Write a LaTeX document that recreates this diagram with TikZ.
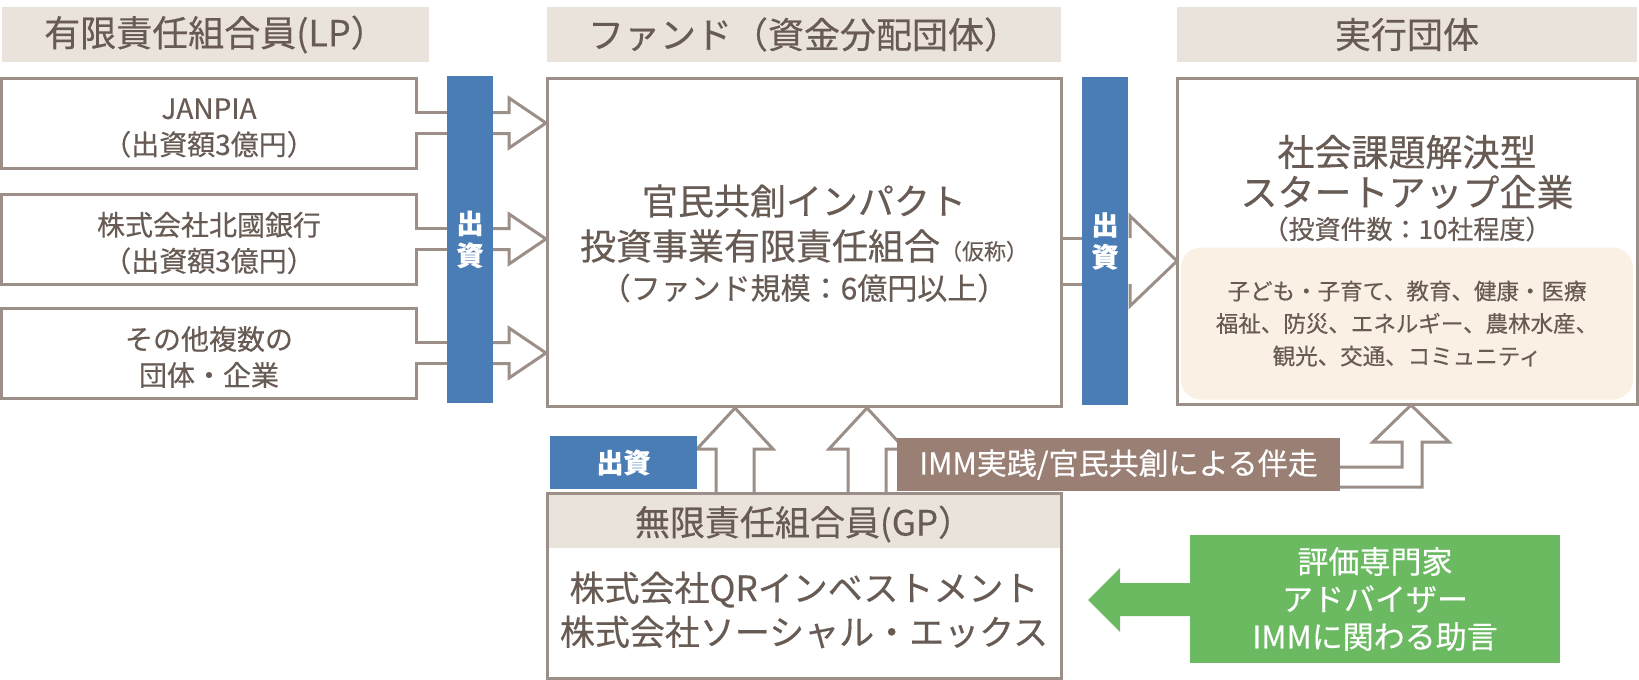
\documentclass[tikz,border=0pt]{standalone}
\usepackage{fontspec}
\setmainfont{Noto Sans CJK JP}[FakeBold=0.4]
\definecolor{hdrfill}{HTML}{EAE3DC}
\definecolor{txt}{HTML}{675B54}
\definecolor{lnc}{HTML}{9B8F87}
\definecolor{bluec}{HTML}{4A7DB5}
\definecolor{brownc}{HTML}{9A8074}
\definecolor{greenc}{HTML}{6BBA62}
\definecolor{beigec}{HTML}{FAF0E4}
\tikzset{
  hdr/.style={fill=hdrfill, inner sep=0pt, text=txt, font=\fontsize{36}{40}\selectfont},
  ln/.style={draw=lnc, line width=3pt, line join=miter},
  frame/.style={draw=lnc, line width=3pt, inner sep=0pt},
  boxtxt/.style={align=center, text=txt, inner sep=0pt, font=\fontsize{28}{36}\selectfont},
  tx/.style={align=center, text=txt, inner sep=0pt},
  barbox/.style={fill=bluec, inner sep=0pt, text=white, align=center, font=\bfseries\fontsize{27}{32}\selectfont},
  lbl/.style={inner sep=0pt, text=white, align=center},
}
\begin{document}
\begin{tikzpicture}[x=1pt,y=-1pt]
\useasboundingbox[fill=white] (0,0) rectangle (1639,680);

% headers
\node[hdr, minimum width=427pt, minimum height=55pt] (hLP) at (215.5,34.5) {有限責任組合員(LP）};
\node[hdr, minimum width=514pt, minimum height=55pt] (hFund) at (804,34.5) {ファンド（資金分配団体）};
\node[hdr, minimum width=460pt, minimum height=55pt] (hExec) at (1407,34.5) {実行団体};

% left boxes with arrow shafts
\draw[ln] (447,112.5) -- (416,112.5) -- (416,78) -- (1.5,78) -- (1.5,168) -- (416,168) -- (416,133.5) -- (447,133.5);
\draw[ln] (493,112.5) -- (509,112.5) -- (509,98) -- (546,123) -- (509,148) -- (509,133.5) -- (493,133.5);
\draw[ln] (447,228.5) -- (416,228.5) -- (416,194) -- (1.5,194) -- (1.5,284) -- (416,284) -- (416,249.5) -- (447,249.5);
\draw[ln] (493,228.5) -- (509,228.5) -- (509,214) -- (546,239) -- (509,264) -- (509,249.5) -- (493,249.5);
\draw[ln] (447,342.5) -- (416,342.5) -- (416,308) -- (1.5,308) -- (1.5,398) -- (416,398) -- (416,363.5) -- (447,363.5);
\draw[ln] (493,342.5) -- (509,342.5) -- (509,328) -- (546,353) -- (509,378) -- (509,363.5) -- (493,363.5);

\node[boxtxt] (lp1) at (209,128) {JANPIA\\（出資額3億円）};
\node[boxtxt] (lp2) at (209,243) {株式会社北國銀行\\（出資額3億円）};
\node[boxtxt] (lp3) at (209,357) {その他複数の\\団体・企業};

% bar 1
\node[barbox, minimum width=46pt, minimum height=327pt] (bar1) at (470,239.5) {出\\資};

% fund box
\node[frame, minimum width=514pt, minimum height=328pt] (fund) at (804,242) {};
\node[tx, font=\fontsize{36}{44}\selectfont] (f1) at (804,201) {官民共創インパクト};
\node[tx, font=\fontsize{36}{44}\selectfont] (f2) at (804,246) {投資事業有限責任組合{\fontsize{22}{26}\selectfont（仮称）}};
\node[tx, font=\fontsize{30}{36}\selectfont] (f3) at (804,288) {（ファンド規模：6億円以上）};

% arrow fund -> exec
\draw[ln] (fund.east |- 0,238) -- (1082,238);
\draw[ln] (fund.east |- 0,284) -- (1082,284);
\draw[ln] (1130,238) -- (1130,216) -- (1177,261) -- (1130,306) -- (1130,284);

% bar 2
\node[barbox, minimum width=46pt, minimum height=328pt] (bar2) at (1105,241) {出\\資};

% exec box
\node[frame, minimum width=460pt, minimum height=326pt] (exec) at (1407,241) {};
\node[tx, font=\fontsize{37}{44}\selectfont] (e1) at (1407,152) {社会課題解決型};
\node[tx, font=\fontsize{37}{44}\selectfont] (e2) at (1407,192) {スタートアップ企業};
\node[tx, font=\fontsize{26}{32}\selectfont] (e3) at (1407,229) {（投資件数：10社程度）};
\node[fill=beigec, rounded corners=20pt, minimum width=452pt, minimum height=152pt, inner sep=0pt] (cat) at (1407,323.5) {};
\node[tx, font=\fontsize{22.5}{32.5}\selectfont] (cattxt) at (cat.center) {子ども・子育て、教育、健康・医療\\福祉、防災、エネルギー、農林水産、\\観光、交通、コミュニティ};

% GP box
\fill[hdrfill] (548.5,494.5) rectangle (1059.5,548);
\node[frame, minimum width=514pt, minimum height=185pt] (gp) at (804,585.5) {};
\node[tx, font=\fontsize{35}{40}\selectfont] (gph) at (804,524) {無限責任組合員(GP）};
\node[tx, font=\fontsize{35}{44}\selectfont] (gpt) at (804,610) {株式会社QRインベストメント\\株式会社ソーシャル・エックス};

% up arrows GP -> fund
\draw[ln] (716,493) -- (716,449) -- (697,449) -- (735,408) -- (773,449) -- (754,449) -- (754,493);
\draw[ln] (848,493) -- (848,449) -- (829,449) -- (867,408) -- (905,449) -- (886,449) -- (886,493);

% bent arrow to exec
\draw[ln] (1330,467) -- (1402,467) -- (1402,442) -- (1373,442) -- (1411,405) -- (1449,442) -- (1422,442) -- (1422,487) -- (1330,487);

% labels
\node[lbl, fill=bluec, minimum width=147pt, minimum height=53pt, font=\bfseries\fontsize{27}{32}\selectfont] (lbl1) at (623.5,462.5) {出資};
\node[lbl, fill=brownc, minimum width=443pt, minimum height=53pt, font=\fontsize{30}{36}\selectfont] (lbl2) at (1118.5,464.5) {IMM実践/官民共創による伴走};

% advisors
\node[lbl, fill=greenc, minimum width=370pt, minimum height=128pt, font=\fontsize{31}{37.5}\selectfont] (adv) at (1375,599) {評価専門家\\アドバイザー\\IMMに関わる助言};
\fill[greenc] (adv.west |- 0,583) -- (1120,583) -- (1120,568) -- (1088,600) -- (1120,632) -- (1120,616) -- (adv.west |- 0,616) -- cycle;
\end{tikzpicture}
\end{document}
